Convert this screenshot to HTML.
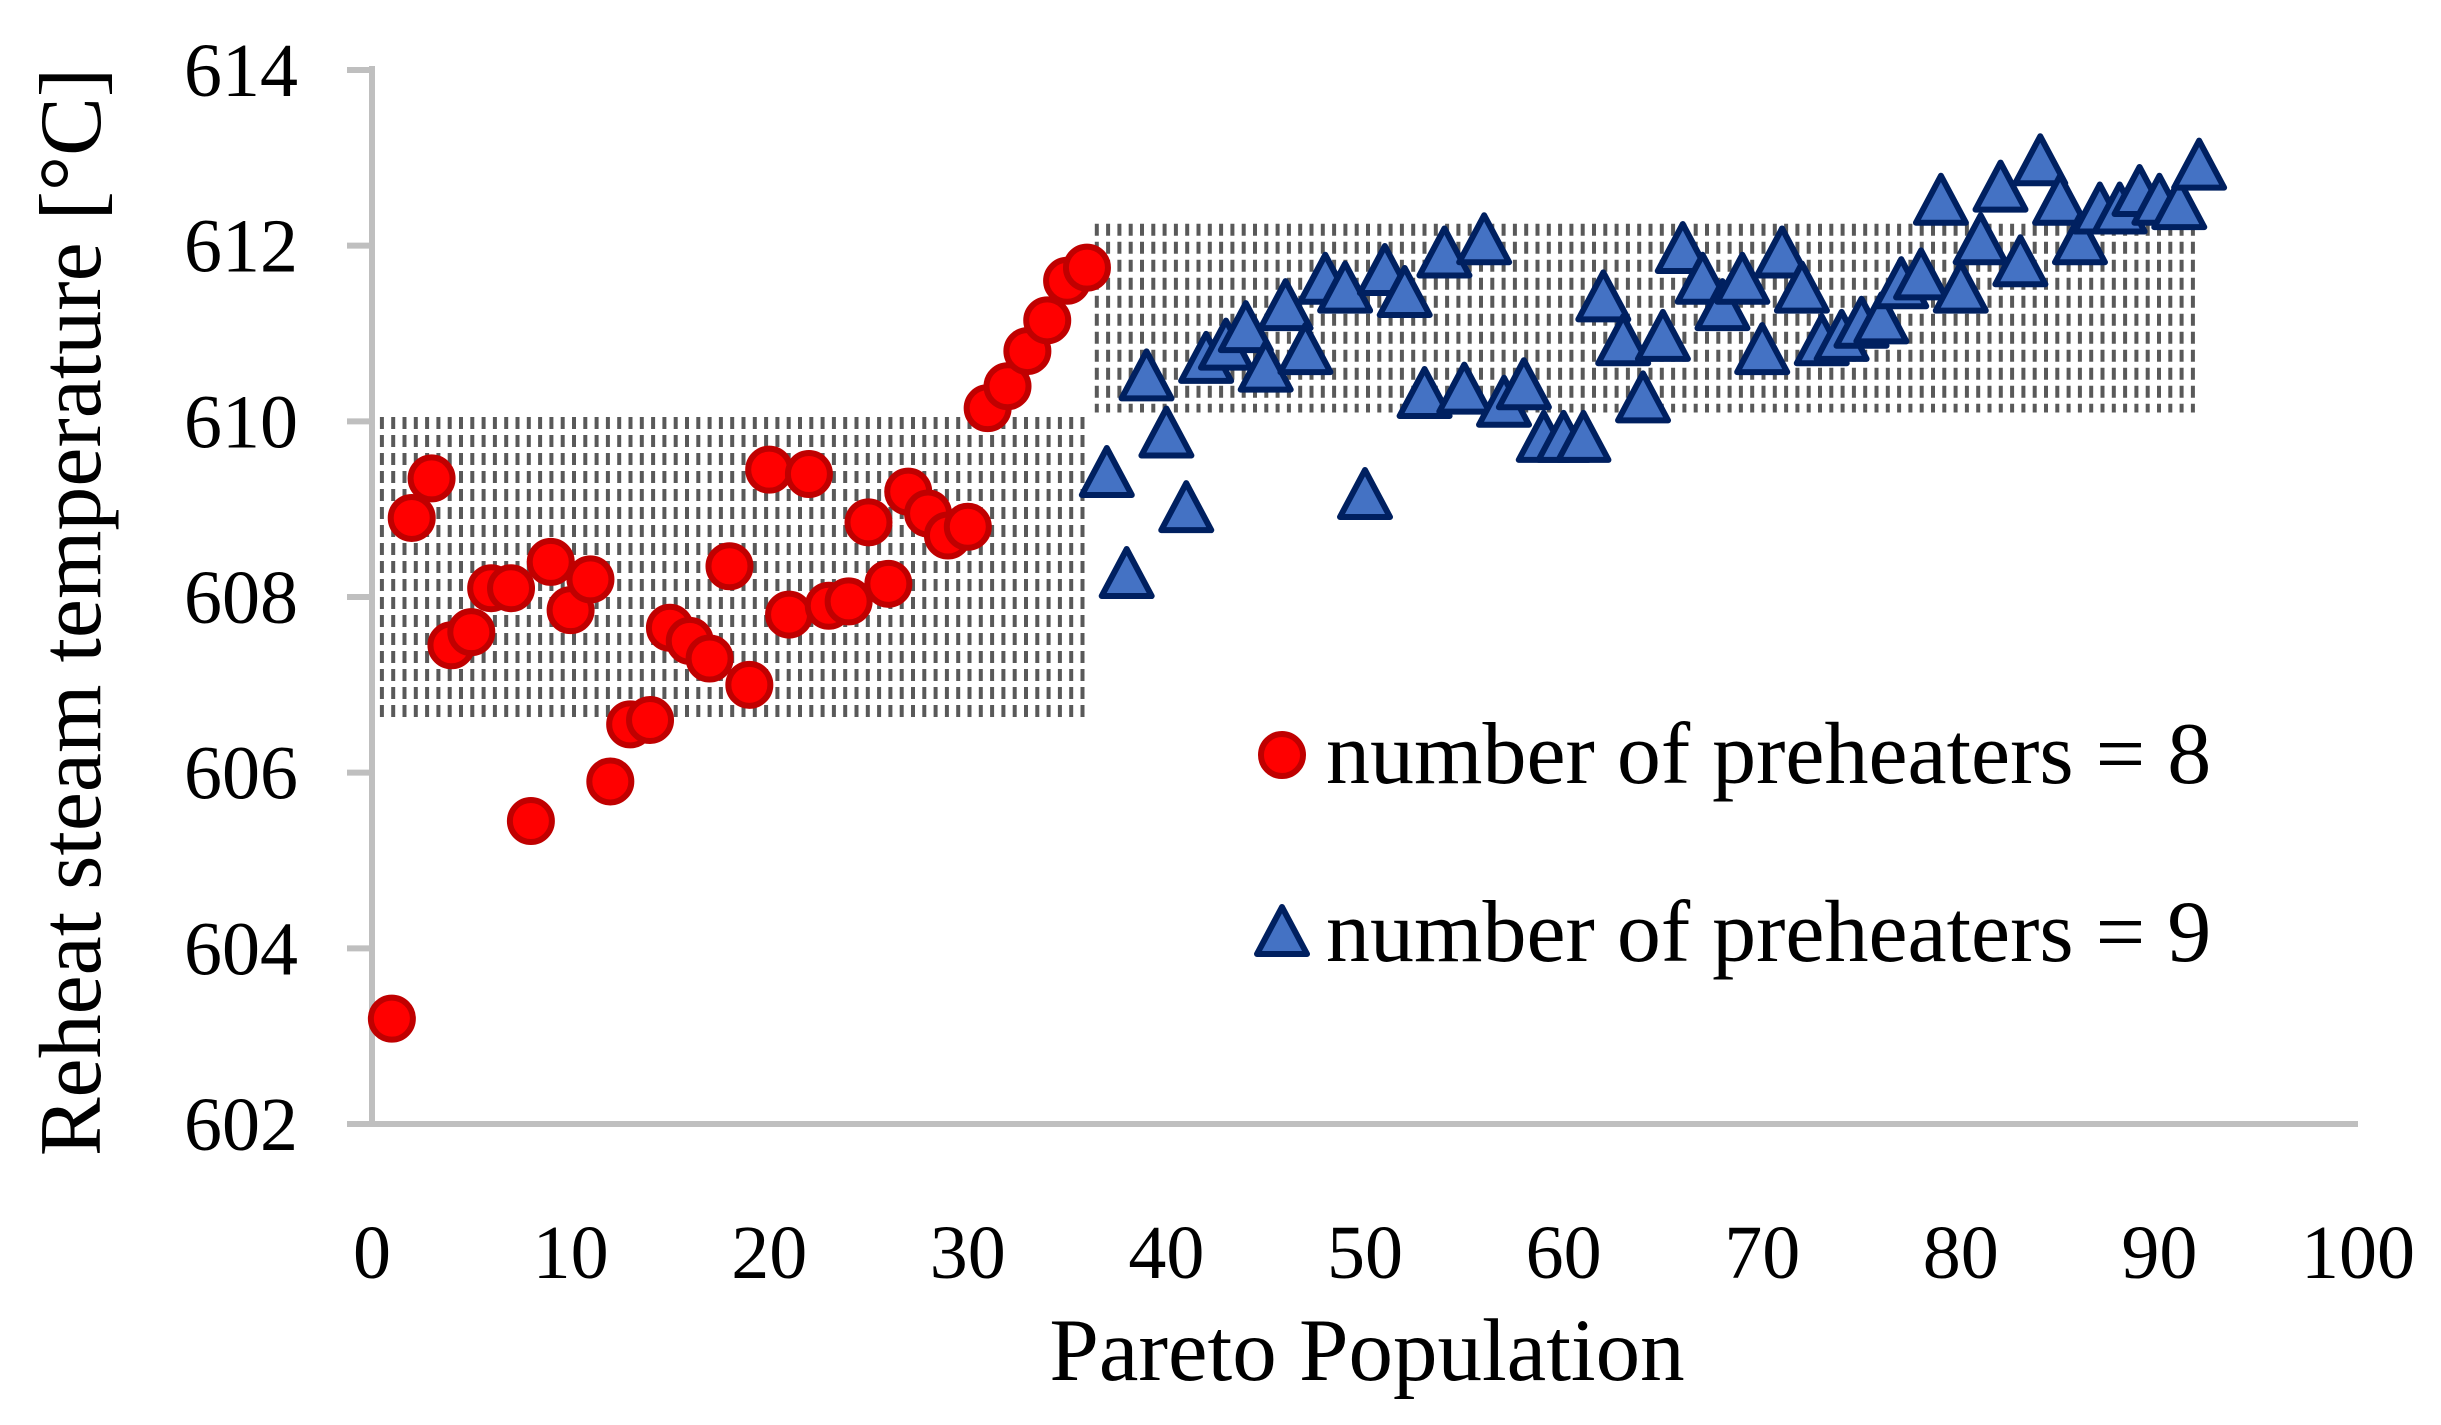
<!DOCTYPE html>
<html><head><meta charset="utf-8"><style>
html,body{margin:0;padding:0;background:#fff;}
svg{display:block;font-family:"Liberation Serif",serif;}
</style></head><body>
<svg id="chart" width="2441" height="1425" viewBox="0 0 2441 1425" xmlns="http://www.w3.org/2000/svg">
<g id="hatch"></g>
<g id="axes"></g>
<g id="marks"></g>
<g id="legend"></g>
</svg>
<script>
const yTicks = [602,604,606,608,610,612,614];
const xTicks = [0,10,20,30,40,50,60,70,80,90,100];
const series8 = [603.2,608.9,609.35,607.45,607.6,608.1,608.1,605.45,608.4,607.85,608.2,605.9,606.55,606.6,607.65,607.5,607.3,608.35,607.0,609.45,607.8,609.4,607.9,607.95,608.85,608.15,609.2,608.95,608.7,608.8,610.15,610.4,610.8,611.15,611.6,611.75];
const series9 = [609.4,608.25,610.5,609.85,609.0,610.7,610.85,611.05,610.6,611.3,610.8,611.6,611.5,609.15,611.7,611.45,610.3,611.9,610.35,612.05,610.2,610.4,609.8,609.8,609.8,611.4,610.9,610.25,610.95,611.95,611.6,611.3,611.6,610.8,611.9,611.5,610.9,610.95,611.1,611.15,611.55,611.65,612.5,611.5,612.05,612.65,611.8,612.95,612.5,612.05,612.4,612.4,612.6,612.5,612.45,612.9];
const bands = [[1,36,606.6,610.05],[37,92,610.1,612.25]];

const NS="http://www.w3.org/2000/svg";
const X0=372,X1=2358,Y0=1124,Y1=70;
const sx=v=>X0+(v-0)/100*(X1-X0);
const sy=v=>Y0-(v-602)/12*(Y0-Y1);
function mk(tag,parent,attrs){const e=document.createElementNS(NS,tag);for(const k in attrs)e.setAttribute(k,attrs[k]);parent.appendChild(e);return e;}

const hatch=document.getElementById('hatch');
bands.forEach((b,i)=>{
  const g=mk('g',hatch,{});
  
  
  const xa=sx(b[0])-10,xb=sx(b[1])+3;
  for(let x=xa;x<=xb;x+=11.3){
    mk('line',g,{x1:x.toFixed(1),x2:x.toFixed(1),y1:sy(b[3]),y2:sy(b[2]),stroke:'#595959','stroke-width':4,'stroke-dasharray':'12 6'});
  }
});

const axes=document.getElementById('axes');
const ya=mk('line',axes,{x1:X0,x2:X0,y1:Y1-4,y2:Y0,stroke:'#bfbfbf','stroke-width':6});

const xa=mk('line',axes,{x1:X0-3,x2:X1,y1:Y0,y2:Y0,stroke:'#bfbfbf','stroke-width':6});

yTicks.forEach(t=>{
  const l=mk('line',axes,{x1:X0-25,x2:X0,y1:sy(t),y2:sy(t),stroke:'#bfbfbf','stroke-width':6});
  
  const tx=mk('text',axes,{x:298,y:sy(t)+26,'text-anchor':'end','font-size':76,fill:'#000'});
  tx.textContent=t;
  
});
xTicks.forEach(t=>{
  const tx=mk('text',axes,{x:sx(t),y:1278,'text-anchor':'middle','font-size':76,fill:'#000'});
  tx.textContent=t;
  
});
const xt=mk('text',axes,{x:1367,y:1380,'text-anchor':'middle','font-size':89,fill:'#000'});
xt.textContent='Pareto Population';

const yt=mk('text',axes,{x:0,y:0,'text-anchor':'middle','font-size':88,fill:'#000',transform:'translate(100,612) rotate(-90)'});
yt.textContent='Reheat steam temperature [°C]';


const marks=document.getElementById('marks');
function circle(p,cx,cy){return mk('circle',p,{cx:cx,cy:cy,r:21,fill:'#ff0000',stroke:'#c00000','stroke-width':6});}
function tri(p,cx,cy){return mk('polygon',p,{points:`${cx},${cy-26} ${cx+25},${cy+21} ${cx-25},${cy+21}`,fill:'#4472c4',stroke:'#002060','stroke-width':6,'stroke-linejoin':'round'});}
series8.forEach((v,i)=>{
  const c=circle(marks,sx(i+1),sy(v));
  
  
});
series9.forEach((v,i)=>{
  const t=tri(marks,sx(i+37),sy(v));
  
  
});

const legend=document.getElementById('legend');
const lc=circle(legend,1282,755);

const l1=mk('text',legend,{x:1326,y:783,'font-size':88,fill:'#000'});
l1.textContent='number of preheaters = 8';

const lt=tri(legend,1282,933);

const l2=mk('text',legend,{x:1326,y:961,'font-size':88,fill:'#000'});
l2.textContent='number of preheaters = 9';

</script>
</body></html>
